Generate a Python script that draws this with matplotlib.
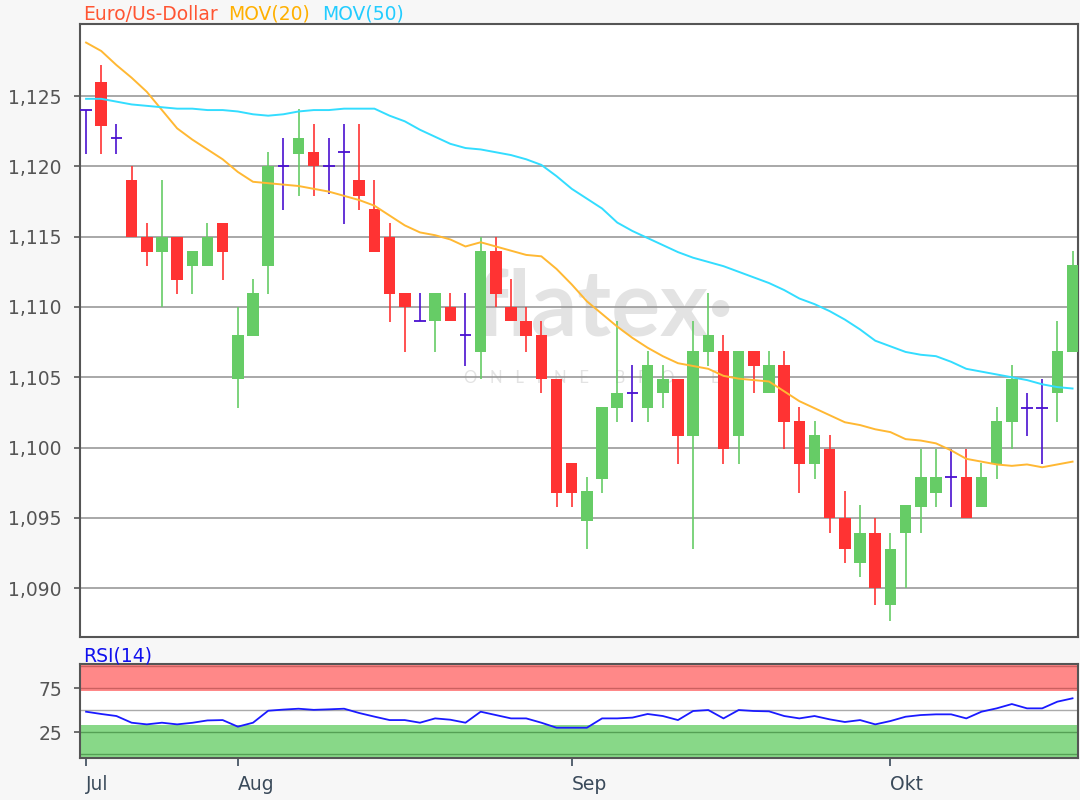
import numpy as np
import matplotlib.pyplot as plt
from matplotlib.ticker import FuncFormatter

# Euro/US-Dollar daily candles (18 Jul - 17 Oct 2019)
opens = [1.1240, 1.1260, 1.1220, 1.1190, 1.1150, 1.1139, 1.1150, 1.1129, 1.1129, 1.1160,
         1.1049, 1.1079, 1.1129, 1.1200, 1.1209, 1.1210, 1.1200, 1.1210, 1.1190, 1.1170,
         1.1150, 1.1110, 1.1090, 1.1090, 1.1100, 1.1080, 1.1068, 1.1140, 1.1100, 1.1090,
         1.1080, 1.1049, 1.0989, 1.0948, 1.0978, 1.1028, 1.1039, 1.1028, 1.1039, 1.1049,
         1.1008, 1.1068, 1.1069, 1.1008, 1.1069, 1.1039, 1.1059, 1.1019, 1.0988, 1.0999,
         1.0950, 1.0918, 1.0939, 1.0888, 1.0939, 1.0958, 1.0968, 1.0979, 1.0979, 1.0958,
         1.0988, 1.1018, 1.1028, 1.1028, 1.1039, 1.1068]
highs = [1.1240, 1.1272, 1.1230, 1.1200, 1.1160, 1.1190, 1.1150, 1.1140, 1.1160, 1.1160,
         1.1100, 1.1120, 1.1210, 1.1220, 1.1241, 1.1230, 1.1220, 1.1230, 1.1230, 1.1190,
         1.1160, 1.1110, 1.1110, 1.1110, 1.1110, 1.1110, 1.1150, 1.1150, 1.1120, 1.1100,
         1.1090, 1.1049, 1.0989, 1.0979, 1.1029, 1.1090, 1.1059, 1.1069, 1.1059, 1.1049,
         1.1090, 1.1110, 1.1080, 1.1069, 1.1069, 1.1069, 1.1069, 1.1029, 1.1019, 1.1009,
         1.0969, 1.0959, 1.0950, 1.0939, 1.0959, 1.0999, 1.0999, 1.0999, 1.0999, 1.0989,
         1.1029, 1.1059, 1.1039, 1.1049, 1.1090, 1.1140]
lows = [1.1209, 1.1209, 1.1209, 1.1150, 1.1129, 1.1100, 1.1109, 1.1109, 1.1129, 1.1119,
        1.1028, 1.1079, 1.1109, 1.1169, 1.1179, 1.1179, 1.1180, 1.1159, 1.1169, 1.1139,
        1.1089, 1.1068, 1.1090, 1.1068, 1.1090, 1.1058, 1.1049, 1.1100, 1.1090, 1.1068,
        1.1039, 1.0958, 1.0958, 1.0928, 1.0968, 1.1018, 1.1018, 1.1018, 1.1028, 1.0988,
        1.0928, 1.1058, 1.0988, 1.0988, 1.1039, 1.1039, 1.0999, 1.0968, 1.0978, 1.0939,
        1.0918, 1.0908, 1.0888, 1.0877, 1.0900, 1.0939, 1.0958, 1.0958, 1.0950, 1.0958,
        1.0978, 1.0999, 1.1008, 1.0988, 1.1018, 1.1068]
closes = [1.1240, 1.1229, 1.1220, 1.1150, 1.1139, 1.1150, 1.1119, 1.1140, 1.1150, 1.1139,
          1.1080, 1.1110, 1.1200, 1.1200, 1.1220, 1.1200, 1.1200, 1.1210, 1.1179, 1.1139,
          1.1109, 1.1100, 1.1090, 1.1110, 1.1090, 1.1080, 1.1140, 1.1109, 1.1090, 1.1079,
          1.1049, 1.0968, 1.0968, 1.0969, 1.1029, 1.1039, 1.1039, 1.1059, 1.1049, 1.1008,
          1.1069, 1.1080, 1.0999, 1.1069, 1.1058, 1.1059, 1.1018, 1.0988, 1.1009, 1.0950,
          1.0928, 1.0939, 1.0900, 1.0928, 1.0959, 1.0979, 1.0979, 1.0979, 1.0950, 1.0979,
          1.1019, 1.1049, 1.1028, 1.1028, 1.1069, 1.1130]

mov20 = [1.1288, 1.1282, 1.1272, 1.1263, 1.1253, 1.1240, 1.1227, 1.1219, 1.1212, 1.1205,
         1.1196, 1.1189, 1.1188, 1.1187, 1.1186, 1.1184, 1.1182, 1.1179, 1.1176, 1.1172,
         1.1165, 1.1158, 1.1153, 1.1151, 1.1148, 1.1143, 1.1146, 1.1143, 1.1140, 1.1137,
         1.1136, 1.1127, 1.1116, 1.1104, 1.1095, 1.1086, 1.1078, 1.1071, 1.1065, 1.1060,
         1.1058, 1.1056, 1.1051, 1.1049, 1.1048, 1.1047, 1.1040, 1.1033, 1.1028, 1.1023,
         1.1018, 1.1016, 1.1013, 1.1011, 1.1006, 1.1005, 1.1003, 1.0998, 1.0992, 1.0990,
         1.0988, 1.0987, 1.0988, 1.0986, 1.0988, 1.0990]
mov50 = [1.1248, 1.1248, 1.1246, 1.1244, 1.1243, 1.1242, 1.1241, 1.1241, 1.1240, 1.1240,
         1.1239, 1.1237, 1.1236, 1.1237, 1.1239, 1.1240, 1.1240, 1.1241, 1.1241, 1.1241,
         1.1236, 1.1232, 1.1226, 1.1221, 1.1216, 1.1213, 1.1212, 1.1210, 1.1208, 1.1205,
         1.1201, 1.1193, 1.1184, 1.1177, 1.1170, 1.1160, 1.1154, 1.1149, 1.1144, 1.1139,
         1.1135, 1.1132, 1.1129, 1.1125, 1.1121, 1.1117, 1.1112, 1.1106, 1.1102, 1.1097,
         1.1091, 1.1084, 1.1076, 1.1072, 1.1068, 1.1066, 1.1065, 1.1061, 1.1056, 1.1054,
         1.1052, 1.1050, 1.1048, 1.1045, 1.1043, 1.1042]
rsi14 = [48.1, 45.5, 43.2, 35.6, 33.7, 35.6, 33.7, 35.5, 38.2, 38.6,
         31.1, 35.6, 49.2, 50.5, 51.5, 50.2, 50.8, 51.5, 46.6, 42.5,
         38.6, 38.6, 35.6, 40.5, 39.0, 35.6, 48.1, 44.3, 40.5, 40.5,
         35.6, 29.9, 29.9, 29.9, 40.5, 40.5, 41.4, 45.5, 43.2, 38.6,
         48.9, 50.0, 40.5, 50.0, 48.9, 48.5, 43.2, 40.5, 43.2, 39.4,
         36.4, 38.6, 33.7, 37.5, 42.4, 44.3, 45.1, 45.1, 40.5, 48.1,
         51.9, 56.8, 51.9, 51.9, 59.5, 63.3]

month_labels = ["Jul", "Aug", "Sep", "Okt"]
month_pos = [0, 10, 32, 53]
price_ticks = [1.090, 1.095, 1.100, 1.105, 1.110, 1.115, 1.120, 1.125]
rsi_ticks = [25, 75]

UP, DOWN, FLAT = "#66cc66", "#ff3333", "#4a10d0"
FRAME = "#555555"

o, h, l, c = (np.array(v) for v in (opens, highs, lows, closes))
x = np.arange(len(c))
doji = np.isclose(o, c)
colors = np.where(doji, FLAT, np.where(c > o, UP, DOWN))

fig = plt.figure(figsize=(10.8, 8), dpi=100, facecolor="#f7f7f7")
ax = fig.add_axes([80 / 1080, 1 - 637 / 800, 998 / 1080, 613 / 800])
ax2 = fig.add_axes([80 / 1080, 1 - 758 / 800, 998 / 1080, 94 / 800], sharex=ax)

# --- price panel ---
for y in price_ticks:
    ax.axhline(y, color="#999999", lw=1.2, zorder=1)

# watermark
ax.text(0.525, 0.535, "flatex\u00b7", transform=ax.transAxes, fontsize=66, fontweight="bold",
        color="#e3e3e3", ha="center", va="center", zorder=0, family="Lato")
ax.text(0.525, 0.423, "O   N   L   I   N   E      B   R   O   K   E   R", transform=ax.transAxes,
        fontsize=12, color="#e3e3e3", ha="center", va="center", zorder=0, family="Lato")

ax.vlines(x, l, h, colors=colors, lw=1.2, zorder=3)
body = ~doji
ax.bar(x[body], np.abs(c - o)[body], bottom=np.minimum(o, c)[body], width=0.76,
       color=colors[body], zorder=4)
ax.hlines(c[doji], x[doji] - 0.38, x[doji] + 0.38, colors=FLAT, lw=1.3, zorder=4)

ax.plot(x, mov20, color="#ffb833", lw=1.4, zorder=5)
ax.plot(x, mov50, color="#33ddff", lw=1.4, zorder=5)

ax.set_xlim(-0.40, 65.36)
ax.set_ylim(1.08653, 1.13012)
ax.set_yticks(price_ticks)
ax.yaxis.set_major_formatter(FuncFormatter(lambda v, p: f"{v:.3f}".replace(".", ",")))
ax.tick_params(axis="y", length=4, width=1.2, color=FRAME, labelcolor="#555555",
               labelsize=13.5, pad=9)
ax.tick_params(axis="x", bottom=False, labelbottom=False)

# --- RSI panel ---
ax2.axhspan(72, 110, color="#ff8888", lw=0, zorder=0)
ax2.axhspan(-10, 32.5, color="#88d888", lw=0, zorder=0)
for y in (100, 75):
    ax2.axhline(y, color="#cc6060", lw=1.0, zorder=1)
for y in (25, 0):
    ax2.axhline(y, color="#55a055", lw=1.0, zorder=1)
ax2.axhline(50, color="#aaaaaa", lw=1.0, zorder=1)
ax2.plot(x, rsi14, color="#1a1aff", lw=1.3, zorder=3)

ax2.set_ylim(-4.5, 102.3)
ax2.set_yticks(rsi_ticks)
ax2.set_xticks(month_pos)
ax2.set_xticklabels(month_labels)
for lbl in ax2.get_xticklabels():
    lbl.set_ha("left")
ax2.tick_params(axis="y", length=4, width=1.2, color=FRAME, labelcolor="#555555",
                labelsize=13.5, pad=9)
ax2.tick_params(axis="x", length=6, width=1.2, color="#3a4a5a", labelcolor="#3a4a5a",
                labelsize=13.5, pad=6)

for a in (ax, ax2):
    a.set_facecolor("white")
    for s in a.spines.values():
        s.set_color(FRAME)
        s.set_linewidth(1.5)

# titles
fig.text(83 / 1080, 1 - 20 / 800, "Euro/Us-Dollar", color="#ff5533", fontsize=13.5, va="baseline")
fig.text(228 / 1080, 1 - 20 / 800, "MOV(20)", color="#ffb000", fontsize=13.5, va="baseline")
fig.text(322 / 1080, 1 - 20 / 800, "MOV(50)", color="#22ccff", fontsize=13.5, va="baseline")
fig.text(83 / 1080, 1 - 661 / 800, "RSI(14)", color="#1010ee", fontsize=13.5, va="baseline")

fig.savefig("out.png", dpi=100, facecolor=fig.get_facecolor())
